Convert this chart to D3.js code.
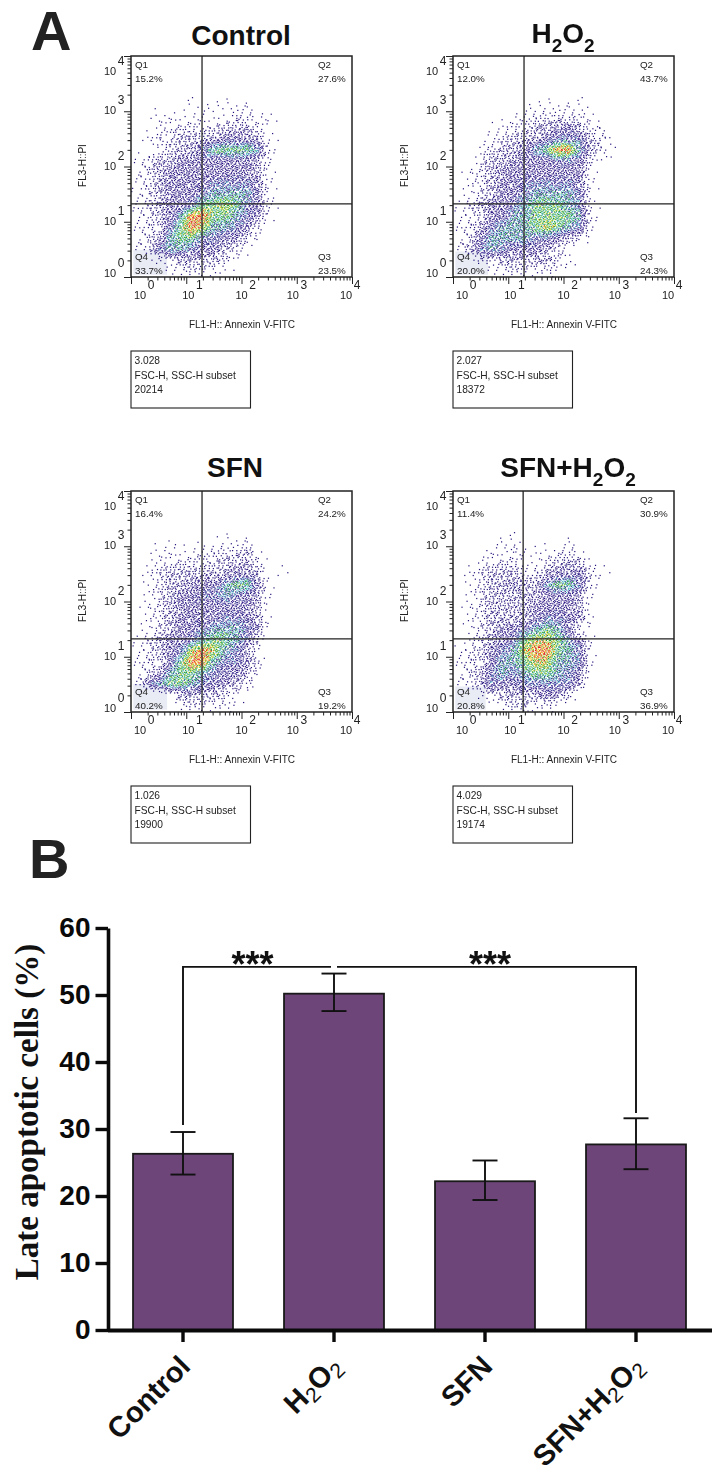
<!DOCTYPE html>
<html><head><meta charset="utf-8">
<script src="https://cdn.jsdelivr.net/npm/d3@7/dist/d3.min.js"></script>
<style>html,body{margin:0;padding:0;background:#fff}svg{display:block}text{font-family:"Liberation Sans",Arial,sans-serif}</style>
</head><body><svg id="c" width="720" height="1475"></svg>
<script>
// ---------- Panel A data ----------
const panelTitles = [["Control"],["H","2","O","2"],["SFN"],["SFN+H","2","O","2"]];
const q1 = ["15.2%","12.0%","16.4%","11.4%"];
const q2 = ["27.6%","43.7%","24.2%","30.9%"];
const q3 = ["23.5%","24.3%","19.2%","36.9%"];
const q4 = ["33.7%","20.0%","40.2%","20.8%"];
const infoIds = ["3.028","2.027","1.026","4.029"];
const infoCounts = ["20214","18372","19900","19174"];
const gateX = [19.3,19.3,19.3,18.6];
const gateY = [21,21,21,21];
const paleMax = [[4.5,3.1],[4.3,2.9],[4.5,3.2],[3.9,2.9]];
const decades = [1,10,100,1000,10000];
const minorTicks = decades.slice(0,4).flatMap(d=>[2,3,4,5,6,7,8,9].map(k=>k*d));
const yLabelShift = [0,3,3,3,19];
const xLabelShift = [2,-5,-7,-11,-13];
// Event density levels (0-9) estimated by eye: the individual events cannot be
// read, so each row is a 0.2-decade band of FL3 (top = 10^3.4), each digit a
// 0.2-decade cell of FL1. Dots below are an ordered-dither rendering of these.
const densityControl = ["000000000000000","000001111110000","001111111221100","001222223332100","012233334443100","001233577776200","123344444443100","123444444443100","123444455554100","123444566664100","223445778754200","123469977654100","122579866542000","123677554421000","125665443210000","001233332100000","000112211000000"];
const densityH2O2 = ["000000000000000","000000011111000","000001122222100","000112233443210","000123334555320","001233467996321","002334444554210","012344444444100","012344555554100","012344566665100","123445677765100","122446677776200","123566678765100","124666655432000","135654443210000","002233333210000","000112212100000"];
const densitySFN = ["000000000000000","000100001110000","001111222231000","011222223332000","012333333443010","012334446774100","012344556543100","012344444443000","012344445543100","012344566654000","123445677652000","123458986531000","122479965542000","123677654431000","146776544320000","000033332100000","000012212100000"];
const densityBoth = ["000000000000000","000011000010000","000112111121000","001222112333100","012333223444210","012334336775200","012333334443100","012333344443000","012333345544100","012344567641000","012345788764100","123456899765100","122466788665100","123565677654000","123544555553000","001233334420000","000012312100000"];
const densities = [densityControl,densityH2O2,densitySFN,densityBoth];
const levelFill = [0,.05,.14,.32,.55,.68,.8,.88,.95,1];
const ditherOrder = [[31,4,44,17,26,9,38],[12,35,21,1,47,29,15],[41,24,7,33,13,42,3],[18,46,28,11,37,20,32],[6,36,0,43,23,5,48],[27,14,39,19,8,34,16],[45,2,25,30,40,10,22]];
// ---------- Panel B data ----------
const categories = ["Control","H2O2","SFN","SFN+H2O2"];
const labelParts = [["Control"],["H","2","O","2"],["SFN"],["SFN+H","2","O","2"]];
const barValues = [26.3,50.2,22.2,27.7];
const errUpper = [29.55,53.2,25.3,31.6];
const errLower = [23.2,47.6,19.4,24.0];
const yTicksB = [0,10,20,30,40,50,60];
const bracketLevel = 54.2;
const bracketFeet = [30.6,32.4];

const svg = d3.select("#c");
const defs = svg.append("defs");
defs.append("filter").attr("id","soft").attr("x","-5%").attr("y","-5%").attr("width","110%").attr("height","110%")
  .append("feGaussianBlur").attr("stdDeviation",0.35);

// letters
svg.append("text").attr("x",31).attr("y",50).attr("font-size",56).attr("font-weight","bold").attr("fill","#222").text("A");
svg.append("text").attr("x",29).attr("y",878).attr("font-size",56).attr("font-weight","bold").attr("fill","#222").text("B");

// ---------- Panel A ----------
const size = 221;
const flowX = d3.scaleLog().domain([1,1e4]).range([0,size]);
const flowY = d3.scaleLog().domain([1,1e4]).range([size,0]);
const lefts = [131,453,131,453], tops = [56,56,491,491];
const titleCx = [241,563,235,568], titleBase = [-11,-13,-14,-14];
const palette = d3.scaleThreshold()
  .domain([3.4,4.7,5.3,6.0,6.9,7.5,8.0,8.5])
  .range(["#26157c","#3a2290","#36449f","#4fb4c6","#249c44","#8cc63a","#ecd820","#ee7a1c","#e0201c"]);

panelTitles.forEach((parts,p)=>{
  const g = svg.append("g").attr("transform",`translate(${lefts[p]},${tops[p]})`);
  const cloud = g.append("g").attr("filter","url(#soft)");
  cloud.append("rect").attr("x",flowX(1.1)).attr("y",flowY(paleMax[p][1])).attr("width",flowX(paleMax[p][0])-flowX(1.1)).attr("height",flowY(1.1)-flowY(paleMax[p][1])).attr("fill","#e9ebf5");
  const grid = densities[p];
  const nr = grid.length, nc = grid[0].length, sub = 8;
  const level=(r,c)=>{ if(r<0||c<0||r>=nr||c>=nc) return 0; return +grid[r][c]; };
  const dots=[];
  for(let i=0;i<nc*sub;i++) for(let j=0;j<nr*sub;j++){
    const cu=(i+.5)/sub-.5, cv=(j+.5)/sub-.5;
    const c0=Math.floor(cu), r0=Math.floor(cv), fu=cu-c0, fv=cv-r0;
    const d=level(r0,c0)*(1-fu)*(1-fv)+level(r0,c0+1)*fu*(1-fv)+level(r0+1,c0)*(1-fu)*fv+level(r0+1,c0+1)*fu*fv;
    if(d<=0) continue;
    const lo=Math.floor(d), hi=Math.min(9,lo+1);
    const fill=levelFill[lo]+(levelFill[hi]-levelFill[lo])*(d-lo);
    const ii=i+3*Math.floor(j/7), jj=j+2*Math.floor(i/7);
    const t=(ditherOrder[jj%7][ii%7]+.5)/49;
    if(t>fill) continue;
    const ox=(ditherOrder[(jj+3)%7][(ii+2)%7]/48-.5)*1.1, oy=(ditherOrder[(jj+5)%7][(ii+4)%7]/48-.5)*1.1;
    dots.push({u:(i+.5)*.2/sub, v:3.4-(j+.5)*.2/sub, ox, oy, lvl:d+(t/Math.max(fill,.01)-.72)*2.4});
  }
  cloud.selectAll("rect.dot").data(dots).join("rect").attr("class","dot")
    .attr("x",d=>flowX(Math.pow(10,d.u))+d.ox-.6).attr("y",d=>flowY(Math.pow(10,d.v))+d.oy-.6)
    .attr("width",1.2).attr("height",1.2).attr("fill",d=>palette(d.lvl));

  const fg = g.append("g").attr("filter","url(#soft)");
  // minor + major ticks through d3 axes
  const axB=(vals,len)=>{const a=fg.append("g").attr("transform",`translate(0,${size})`).call(d3.axisBottom(flowX).tickValues(vals).tickSize(len).tickSizeOuter(0).tickFormat(""));a.select(".domain").remove();a.selectAll("line").attr("stroke","#222").attr("stroke-width",1);};
  const axL=(vals,len)=>{const a=fg.append("g").call(d3.axisLeft(flowY).tickValues(vals).tickSize(len).tickSizeOuter(0).tickFormat(""));a.select(".domain").remove();a.selectAll("line").attr("stroke","#222").attr("stroke-width",1);};
  axB(decades,7);axB(minorTicks,3.5);axL(decades,7);axL(minorTicks,3.5);
  // gates + frame
  fg.append("line").attr("x1",flowX(gateX[p])).attr("x2",flowX(gateX[p])).attr("y1",0).attr("y2",size).attr("stroke","#222").attr("stroke-width",1.3);
  fg.append("line").attr("x1",0).attr("x2",size).attr("y1",flowY(gateY[p])).attr("y2",flowY(gateY[p])).attr("stroke","#222").attr("stroke-width",1.3);
  fg.append("rect").attr("width",size).attr("height",size).attr("fill","none").attr("stroke","#222").attr("stroke-width",1.5);
  // quadrant labels
  const qt=(x,y,s)=>fg.append("text").attr("x",x).attr("y",y).attr("font-size",9.8).attr("fill","#222").text(s);
  qt(4,12,"Q1");qt(4,25.5,q1[p]);qt(187,12,"Q2");qt(187,25.5,q2[p]);
  qt(4,204,"Q4");qt(4,217.5,q4[p]);qt(187,204,"Q3");qt(187,217.5,q3[p]);
  // tick labels
  decades.forEach((d,i)=>{
    const tx=fg.append("text").attr("x",flowX(d)+xLabelShift[i]+1).attr("y",size+22).attr("font-size",11).attr("fill","#222");
    tx.append("tspan").text("10");
    tx.append("tspan").attr("dy",-10).attr("dx",1.5).attr("font-size",12).text(i);
    const ty=fg.append("text").attr("x",-27).attr("y",flowY(d)+yLabelShift[i]).attr("font-size",11).attr("fill","#222");
    ty.append("tspan").text("10");
    ty.append("tspan").attr("dy",-10).attr("dx",1.5).attr("font-size",12).text(i);
  });
  fg.append("text").attr("x",size/2+.5).attr("y",size+51).attr("text-anchor","middle").attr("font-size",10).attr("fill","#222").text("FL1-H:: Annexin V-FITC");
  fg.append("text").attr("transform",`translate(-45,${size/2-1}) rotate(-90)`).attr("text-anchor","middle").attr("font-size",10).attr("fill","#222").text("FL3-H::PI");
  // info box
  fg.append("rect").attr("x",0).attr("y",295).attr("width",119.5).attr("height",57).attr("fill","none").attr("stroke","#222").attr("stroke-width",1.1);
  [infoIds[p],"FSC-H, SSC-H subset",infoCounts[p]].forEach((s,i)=>fg.append("text").attr("x",3.5).attr("y",308+i*14.5).attr("font-size",10.2).attr("fill","#222").text(s));
  // title
  const tt=svg.append("text").attr("x",titleCx[p]).attr("y",tops[p]+titleBase[p]).attr("text-anchor","middle").attr("font-size",28).attr("font-weight","bold").attr("fill","#111");
  parts.forEach((s,i)=>{
    const sp=tt.append("tspan").text(s);
    if(parts.length>1&&i%2===1) sp.attr("font-size",19).attr("dy",9);
    else if(i>0) sp.attr("dy",-9);
  });
});

// ---------- Panel B ----------
const x = d3.scaleBand().domain(categories).range([107.5,711.5]).paddingInner(.338).paddingOuter(.169);
const y = d3.scaleLinear().domain([0,60]).range([1330,928]);
const gb = svg.append("g");
gb.selectAll("rect.bar").data(categories).join("rect").attr("class","bar")
  .attr("x",d=>x(d)).attr("width",x.bandwidth())
  .attr("y",(d,i)=>y(barValues[i])).attr("height",(d,i)=>y(0)-y(barValues[i]))
  .attr("fill","#6d4579").attr("stroke","#1a1a1a").attr("stroke-width",1.8);
const cx=d=>x(d)+x.bandwidth()/2;
const capHalf=12.5;
categories.forEach((d,i)=>{
  const ln=(a,b,c,e)=>gb.append("line").attr("x1",a).attr("x2",b).attr("y1",c).attr("y2",e).attr("stroke","#111").attr("stroke-width",1.9);
  ln(cx(d),cx(d),y(errUpper[i]),y(errLower[i]));
  ln(cx(d)-capHalf,cx(d)+capHalf,y(errUpper[i]),y(errUpper[i]));
  ln(cx(d)-capHalf,cx(d)+capHalf,y(errLower[i]),y(errLower[i]));
});
// axes
const ax=svg.append("g").attr("transform","translate(108,0)").call(d3.axisLeft(y).tickValues(yTicksB).tickSize(12.5).tickPadding(5).tickSizeOuter(0));
ax.select(".domain").attr("stroke","#0a0a0a").attr("stroke-width",3.6);
ax.selectAll("line").attr("stroke","#0a0a0a").attr("stroke-width",3.4);
ax.selectAll("text").attr("font-size",28).attr("font-weight","bold").attr("fill","#0a0a0a").attr("font-family",'"Liberation Sans",Arial,sans-serif');
const bx=svg.append("g").attr("transform","translate(0,1330)").call(d3.axisBottom(x).tickSize(12).tickSizeOuter(0).tickFormat(""));
bx.select(".domain").attr("stroke","#0a0a0a").attr("stroke-width",3.8);
bx.selectAll("line").attr("stroke","#0a0a0a").attr("stroke-width",3.4);
// category labels
labelParts.forEach((parts,i)=>{
  const t=svg.append("text").attr("transform",`translate(${cx(categories[i])+9},1368) rotate(-45)`).attr("text-anchor","end").attr("font-size",29).attr("font-weight","bold").attr("fill","#111");
  parts.forEach((s,k)=>{
    const sp=t.append("tspan").text(s);
    if(parts.length>1&&k%2===1) sp.attr("font-size",21).attr("font-weight","normal").attr("dy",5);
    else if(k>0) sp.attr("dy",-5);
  });
});
svg.append("text").attr("transform","translate(38,1112) rotate(-90)").attr("text-anchor","middle").attr("font-size",33).attr("font-weight","bold").attr("fill","#111").style("font-family",'"Liberation Serif","Times New Roman",serif').text("Late apoptotic cells (%)");
// brackets
const bL=cx(categories[0]), bM=cx(categories[1]), bR=cx(categories[3]);
const brk=d3.line();
svg.append("path").attr("d",brk([[bL,y(bracketFeet[0])],[bL,y(bracketLevel)],[bM-3,y(bracketLevel)]])).attr("fill","none").attr("stroke","#111").attr("stroke-width",1.9);
svg.append("path").attr("d",brk([[bM+3,y(bracketLevel)],[bR,y(bracketLevel)],[bR,y(bracketFeet[1])]])).attr("fill","none").attr("stroke","#111").attr("stroke-width",1.9);
[(bL+bM)/2-6,(bM+bR)/2+5].forEach(c=>svg.append("text").attr("x",c).attr("y",977).attr("text-anchor","middle").attr("font-size",36).attr("font-weight","bold").attr("fill","#111").text("***"));
</script></body></html>
